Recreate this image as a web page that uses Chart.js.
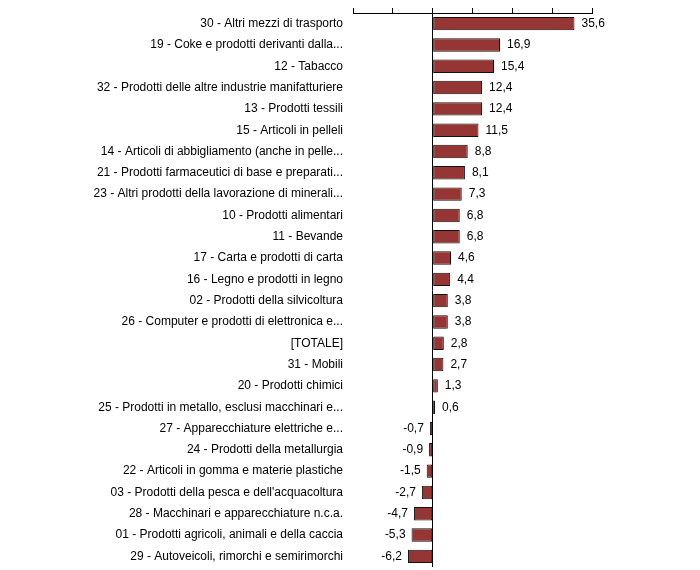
<!DOCTYPE html>
<html>
<head>
<meta charset="utf-8">
<script src="https://cdn.jsdelivr.net/npm/chart.js@4"></script>
<style>
  html, body { margin: 0; padding: 0; background: #fff; }
  #wrap { width: 700px; height: 570px; }
</style>
</head>
<body>
<div id="wrap"><canvas id="chart" width="700" height="570"></canvas></div>
<script>
const categories = [
  "30 - Altri mezzi di trasporto",
  "19 - Coke e prodotti derivanti dalla...",
  "12 - Tabacco",
  "32 - Prodotti delle altre industrie manifatturiere",
  "13 - Prodotti tessili",
  "15 - Articoli in pelleli",
  "14 - Articoli di abbigliamento (anche in pelle...",
  "21 - Prodotti farmaceutici di base e preparati...",
  "23 - Altri prodotti della lavorazione di minerali...",
  "10 - Prodotti alimentari",
  "11 - Bevande",
  "17 - Carta e prodotti di carta",
  "16 - Legno e prodotti in legno",
  "02 - Prodotti della silvicoltura",
  "26 - Computer e prodotti di elettronica e...",
  "[TOTALE]",
  "31 - Mobili",
  "20 - Prodotti chimici",
  "25 - Prodotti in metallo, esclusi macchinari e...",
  "27 - Apparecchiature elettriche e...",
  "24 - Prodotti della metallurgia",
  "22 - Articoli in gomma e materie plastiche",
  "03 - Prodotti della pesca e dell'acquacoltura",
  "28 - Macchinari e apparecchiature n.c.a.",
  "01 - Prodotti agricoli, animali e della caccia",
  "29 - Autoveicoli, rimorchi e semirimorchi"
];
const values = [35.6, 16.9, 15.4, 12.4, 12.4, 11.5, 8.8, 8.1, 7.3, 6.8, 6.8, 4.6, 4.4, 3.8, 3.8, 2.8, 2.7, 1.3, 0.6, -0.7, -0.9, -1.5, -2.7, -4.7, -5.3, -6.2];
const xMin = -20, xMax = 40, xStep = 10;

const fontFamily = "'Liberation Sans', Arial, sans-serif";

// numeri accanto alle barre, con la virgola decimale
const valueLabels = {
  id: "valueLabels",
  afterDatasetsDraw(chart) {
    const ctx = chart.ctx;
    const meta = chart.getDatasetMeta(0);
    ctx.save();
    ctx.font = "12px " + fontFamily;
    ctx.fillStyle = "#000";
    ctx.textBaseline = "middle";
    meta.data.forEach((bar, i) => {
      const v = values[i];
      const txt = v.toFixed(1).replace(".", ",");
      if (v >= 0) {
        ctx.textAlign = "left";
        ctx.fillText(txt, bar.x + 7, bar.y);
      } else {
        ctx.textAlign = "right";
        ctx.fillText(txt, bar.x - 6, bar.y);
      }
    });
    ctx.restore();
  }
};

new Chart(document.getElementById("chart"), {
  type: "bar",
  data: {
    labels: categories,
    datasets: [{
      data: values,
      backgroundColor: "#963634",
      borderColor: "#111",
      borderWidth: 1,
      borderSkipped: false,
      barPercentage: 0.63,
      categoryPercentage: 1
    }]
  },
  options: {
    indexAxis: "y",
    responsive: false,
    animation: false,
    layout: { autoPadding: false, padding: { left: 0, right: 108, top: 0, bottom: 3 } },
    plugins: {
      legend: { display: false },
      tooltip: { enabled: false }
    },
    scales: {
      x: {
        position: "top",
        min: xMin,
        max: xMax,
        ticks: { stepSize: xStep, display: false },
        grid: {
          drawOnChartArea: true,
          drawTicks: true,
          tickLength: 5,
          tickColor: "#000",
          color: c => (c.tick && c.tick.value === 0) ? "#000" : "rgba(0,0,0,0)",
          lineWidth: 1
        },
        border: { display: true, color: "#000", width: 1 },
        afterFit: s => { s.height = 13; }
      },
      y: {
        ticks: {
          color: "#000",
          font: { family: fontFamily, size: 12 },
          padding: 2,
          autoSkip: false
        },
        grid: { display: false },
        border: { display: false },
        afterFit: s => {
          s.width = 353;
          s.paddingTop = 0;
          s.paddingBottom = 0;
        }
      }
    }
  },
  plugins: [valueLabels]
});
</script>
</body>
</html>
